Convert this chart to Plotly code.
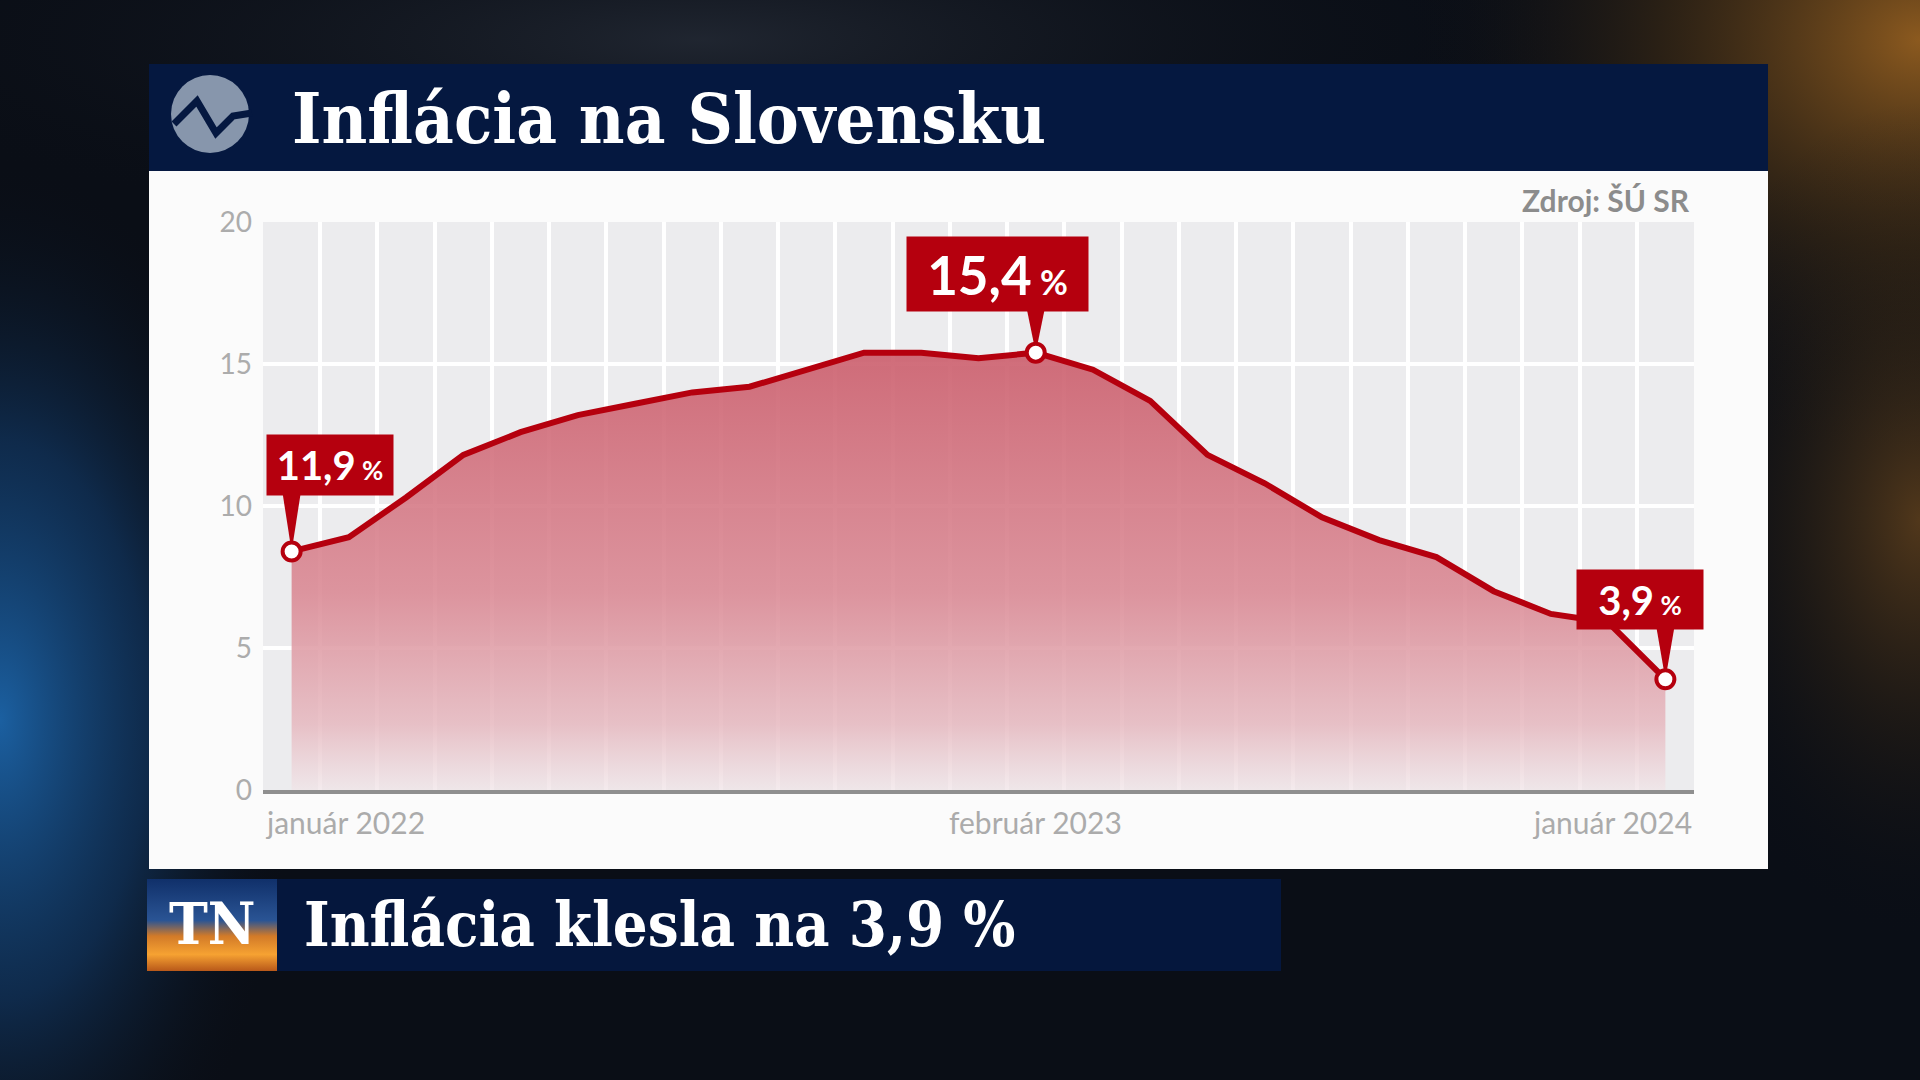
import base64
import plotly.graph_objects as go

W, H = 1920, 1080

# data
months = ["január", "február", "marec", "apríl", "máj", "jún", "júl", "august",
          "september", "október", "november", "december"]
periods = [f"{m} {y}" for y in (2022, 2023) for m in months] + ["január 2024"]
inflation = [8.4, 8.9, 10.3, 11.8, 12.6, 13.2, 13.6, 14.0, 14.2, 14.8, 15.4, 15.4, 15.2,
             15.4, 14.8, 13.7, 11.8, 10.8, 9.6, 8.8, 8.2, 7.0, 6.2, 5.9, 3.9]
highlight_idx = [0, 13, 24]
highlight_text = ["11,9", "15,4", "3,9"]
axis_labels = ["január 2022", "február 2023", "január 2024"]
y_ticks = [0, 5, 10, 15, 20]

title = "Inflácia na Slovensku"
source = "Zdroj: ŠÚ SR"
headline = "Inflácia klesla na 3,9 %"

# label box styles (pixels)
box_w = [126, 181, 126]
box_h = [60, 74, 59]
box_dx = [38, -38, -25]
box_gap = [55, 41, 49]
num_size = [40, 53, 40]
pct_size = [26, 34, 26]

RED = "#b5000e"
NAVY = "#051840"

x_dom = [263 / W, 1694 / W]
y_dom = [1 - 790 / H, 1 - 222 / H]
x_rng = [-0.5, len(periods) - 0.5]
y_rng = [0, 20]
px_per_y = H * (y_dom[1] - y_dom[0]) / (y_rng[1] - y_rng[0])
px_per_x = W * (x_dom[1] - x_dom[0]) / (x_rng[1] - x_rng[0])


def px(x):
    return x / W


def py(y):
    return 1 - y / H


xs = list(range(len(periods)))

fig = go.Figure()

fig.add_trace(go.Scatter(
    x=xs, y=inflation, mode="lines", fill="tozeroy",
    fillgradient=dict(type="vertical", start=0, stop=max(inflation),
                      colorscale=[[0, "rgba(240,228,231,0.75)"],
                                  [0.15, "rgba(230,184,191,0.85)"],
                                  [0.45, "rgba(218,136,147,0.88)"],
                                  [1, "rgba(204,96,110,0.92)"]]),
    line=dict(color=RED, width=6),
    hoverinfo="skip", showlegend=False,
))

# pointers from label boxes down to the highlighted points
for k, i in enumerate(highlight_idx):
    v = inflation[i]
    top = v + (box_gap[k] + 3) / px_per_y
    hw = 9 / px_per_x
    fig.add_trace(go.Scatter(
        x=[i - hw, i + hw, i, i - hw], y=[top, top, v, top],
        mode="lines", fill="toself", fillcolor=RED, line=dict(width=0, color=RED),
        hoverinfo="skip", showlegend=False, cliponaxis=False,
    ))

fig.add_trace(go.Scatter(
    x=highlight_idx, y=[inflation[i] for i in highlight_idx], mode="markers",
    marker=dict(size=18, color="white", line=dict(color=RED, width=4)),
    hoverinfo="skip", showlegend=False, cliponaxis=False,
))

annotations = []
for k, i in enumerate(highlight_idx):
    annotations.append(dict(
        x=i, y=inflation[i], xref="x", yref="y", showarrow=False,
        text=f"<b>{highlight_text[k]}</b><span style='font-size:{pct_size[k]}px'><b> %</b></span>",
        font=dict(family="Lato", size=num_size[k], color="white"),
        bgcolor=RED, width=box_w[k], height=box_h[k], borderpad=0,
        xanchor="center", yanchor="bottom", xshift=box_dx[k], yshift=box_gap[k],
        align="center", valign="middle",
    ))

for lab in axis_labels:
    i = periods.index(lab)
    if i == 0:
        xpos, anchor = x_rng[0], "left"
    elif i == len(periods) - 1:
        xpos, anchor = x_rng[1], "right"
    else:
        xpos, anchor = i, "center"
    annotations.append(dict(
        x=xpos, y=0, xref="x", yref="y", showarrow=False, text=lab,
        font=dict(family="Lato", size=30, color="#ababab"),
        xanchor=anchor, yanchor="top", yshift=-12,
    ))

annotations += [
    dict(x=px(290), y=py(118), xref="paper", yref="paper", showarrow=False,
         text=f"<b>{title}</b>", xanchor="left", yanchor="middle",
         font=dict(family="DejaVu Serif Condensed", size=70, color="white")),
    dict(x=px(1692), y=py(200), xref="paper", yref="paper", showarrow=False,
         text=f"<b>{source}</b>", xanchor="right", yanchor="middle",
         font=dict(family="Lato", size=30, color="#8c8c8c")),
    dict(x=px(302), y=py(924), xref="paper", yref="paper", showarrow=False,
         text=f"<b>{headline}</b>", xanchor="left", yanchor="middle",
         font=dict(family="DejaVu Serif Condensed", size=61, color="white")),
    dict(x=px(212), y=py(924), xref="paper", yref="paper", showarrow=False,
         text="<b>TN</b>", xanchor="center", yanchor="middle",
         font=dict(family="DejaVu Serif Condensed", size=58, color="white")),
]

bg_svg = f"""<svg xmlns='http://www.w3.org/2000/svg' width='{W}' height='{H}' viewBox='0 0 {W} {H}'>
<defs>
<radialGradient id='blue'><stop offset='0' stop-color='#1c64a8' stop-opacity='0.95'/>
<stop offset='0.5' stop-color='#123d6e' stop-opacity='0.6'/><stop offset='1' stop-color='#0a0e16' stop-opacity='0'/></radialGradient>
<radialGradient id='orange'><stop offset='0' stop-color='#9a6220' stop-opacity='0.9'/>
<stop offset='0.5' stop-color='#4a3214' stop-opacity='0.5'/><stop offset='1' stop-color='#0a0e16' stop-opacity='0'/></radialGradient>
<radialGradient id='grey'><stop offset='0' stop-color='#3a4250' stop-opacity='0.45'/>
<stop offset='1' stop-color='#0a0e16' stop-opacity='0'/></radialGradient>
<linearGradient id='tn' x1='0' y1='0' x2='0' y2='1'>
<stop offset='0' stop-color='#10306a'/><stop offset='0.45' stop-color='#2a5494'/>
<stop offset='0.62' stop-color='#d27a28'/><stop offset='0.82' stop-color='#f6a232'/>
<stop offset='1' stop-color='#b8581a'/></linearGradient>
</defs>
<rect width='{W}' height='{H}' fill='#0a0e16'/>
<ellipse cx='700' cy='40' rx='900' ry='200' fill='url(#grey)'/>
<ellipse cx='0' cy='720' rx='300' ry='560' fill='url(#blue)'/>
<ellipse cx='1920' cy='40' rx='520' ry='420' fill='url(#orange)'/>
<ellipse cx='1920' cy='520' rx='260' ry='420' fill='url(#orange)' opacity='0.55'/>
<rect x='147' y='879' width='130' height='92' fill='url(#tn)'/>
</svg>"""
bg_uri = "data:image/svg+xml;base64," + base64.b64encode(bg_svg.encode("utf-8")).decode("ascii")

zig = [(174, 124), (197, 101), (216, 133), (233, 116), (252, 113)]
zig_path = "M " + " L ".join(f"{px(a)},{py(b)}" for a, b in zig)

shapes = [
    dict(type="rect", xref="paper", yref="paper", layer="below",
         x0=px(149), x1=px(1768), y0=py(171), y1=py(64), fillcolor=NAVY, line=dict(width=0)),
    dict(type="rect", xref="paper", yref="paper", layer="below",
         x0=px(149), x1=px(1768), y0=py(869), y1=py(171), fillcolor="#fbfbfb", line=dict(width=0)),
    dict(type="rect", xref="paper", yref="paper", layer="below",
         x0=px(277), x1=px(1281), y0=py(971), y1=py(879), fillcolor="rgba(5,24,64,0.96)", line=dict(width=0)),
    dict(type="circle", xref="paper", yref="paper", layer="below",
         x0=px(171), x1=px(249), y0=py(153), y1=py(75), fillcolor="#8796ac", line=dict(width=0)),
    dict(type="path", xref="paper", yref="paper", layer="below", path=zig_path,
         line=dict(color=NAVY, width=7)),
    dict(type="rect", xref="x", yref="y", layer="below",
         x0=x_rng[0], x1=x_rng[1], y0=y_rng[0], y1=y_rng[1], fillcolor="#ececee", line=dict(width=0)),
]

fig.update_layout(
    width=W, height=H,
    margin=dict(l=0, r=0, t=0, b=0),
    paper_bgcolor="#0a0e16",
    plot_bgcolor="rgba(0,0,0,0)",
    showlegend=False,
    images=[dict(source=bg_uri, xref="paper", yref="paper", x=0, y=1, sizex=1, sizey=1,
                 xanchor="left", yanchor="top", sizing="stretch", layer="below")],
    shapes=shapes,
    annotations=annotations,
    xaxis=dict(domain=x_dom, range=x_rng, tickmode="linear", tick0=0.5, dtick=1,
               showticklabels=False, ticks="", showgrid=True, gridcolor="white", gridwidth=4,
               zeroline=False, showline=True, linecolor="#8f8f8f", linewidth=4,
               automargin=False, fixedrange=True),
    yaxis=dict(domain=y_dom, range=y_rng, tickvals=y_ticks, showgrid=True,
               gridcolor="white", gridwidth=4, zeroline=False, ticks="",
               ticklabelstandoff=10, automargin=False,
               tickfont=dict(family="Lato", size=28, color="#acacac"), fixedrange=True),
)

fig.write_html("out.html", config={"displayModeBar": False},
               post_script="document.body.style.margin='0';document.body.style.overflow='hidden';")
